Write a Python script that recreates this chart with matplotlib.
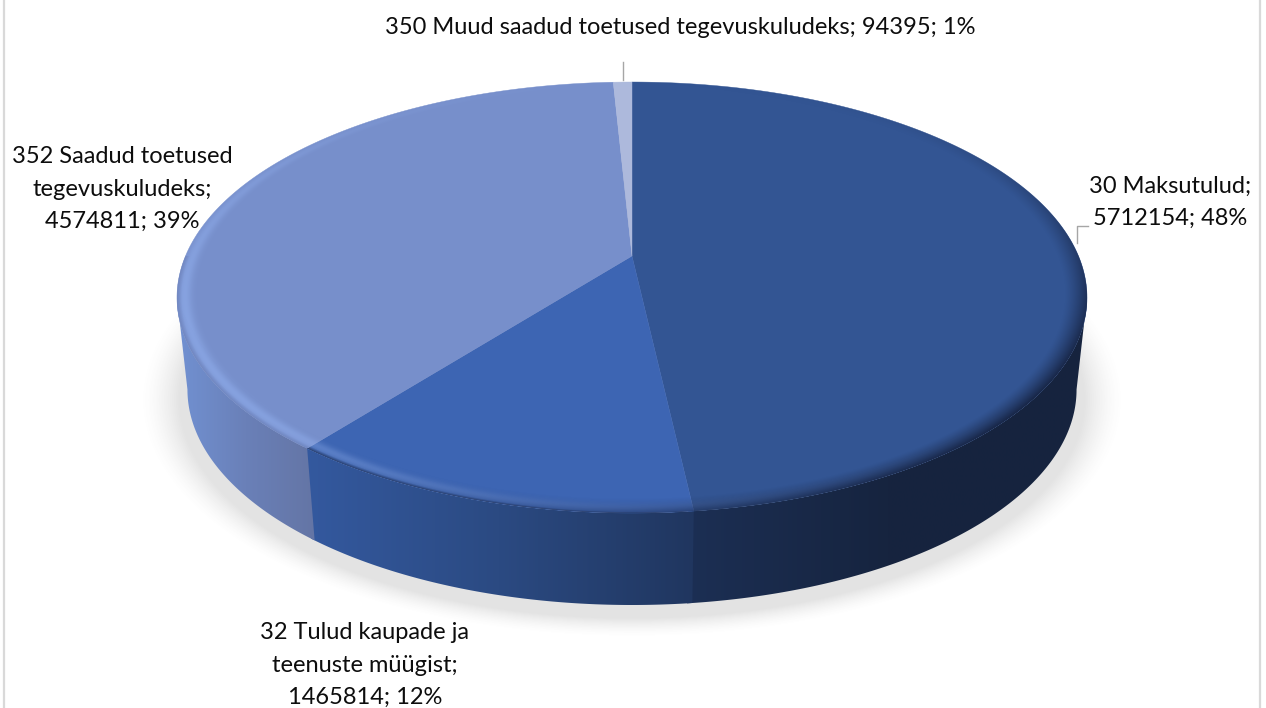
"""3D-looking pie of revenue by group, drawn on a pixel-sized axes."""

import matplotlib

matplotlib.use("Agg")

import matplotlib.pyplot as plt
import numpy as np
from matplotlib.colors import LinearSegmentedColormap
from matplotlib.patches import Polygon

# data
names = [
    "30 Maksutulud;",
    "32 Tulud kaupade ja\nteenuste müügist;",
    "352 Saadud toetused\ntegevuskuludeks;",
    "350 Muud saadud toetused tegevuskuludeks;",
]
values = [5712154, 1465814, 4574811, 94395]
percents = [48, 12, 39, 1]

face_colors = ["#335593", "#3d65b3", "#778fcb", "#adb9dc"]
wall_colors = [
    ["#1c2f54", "#16243f", "#16233e"],
    ["#34599f", "#2b4a82", "#20365f"],
    ["#7191d2", "#6a80b8", "#6475a5"],
    ["#adb9dc", "#adb9dc", "#adb9dc"],
]

WIDTH, HEIGHT = 1266, 708

# perspective of the top disc, apex of the pie at (CX, CY)
CX, CY = 632.0, 256.0
KP = 0.1926
RX, RY = 446.5, 207.5
DEPTH = 92.0
BOTTOM_SCALE = 0.977
RIM = 0.034


def project(r, theta, bottom=False):
    # theta is clockwise from 12 o'clock, in radians
    u = r * np.sin(theta)
    v = r * np.cos(theta)
    w = 1.0 + KP * v
    x = RX * u / w
    y = CY - RY * v / w
    if bottom:
        return CX + x * BOTTOM_SCALE, y + DEPTH
    return CX + x, y


def wedge_xy(t0, t1):
    t = np.linspace(t0, t1, 200)
    x, y = project(1.0, t)
    return np.column_stack((np.r_[CX, x], np.r_[CY, y]))


def wall_xy(t0, t1):
    t = np.linspace(t0, t1, 200)
    xa, ya = project(1.0, t)
    xb, yb = project(1.0, t, bottom=True)
    return np.column_stack((np.r_[xa, xb[::-1]], np.r_[ya, yb[::-1]]))


def draw_shadow(ax):
    yy, xx = np.mgrid[0:HEIGHT, 0:WIDTH] + 0.5
    d = np.hypot((xx - CX) / 452.0, (yy - 400.0) / 218.0)
    alpha = 0.17 * np.clip((1.09 - d) / 0.09, 0, 1) ** 1.6
    rgba = np.zeros((HEIGHT, WIDTH, 4))
    rgba[..., :3] = 0.35
    rgba[..., 3] = alpha
    ax.imshow(rgba, extent=(0, WIDTH, HEIGHT, 0), zorder=1, interpolation="bilinear")


def draw_wall(ax, t0, t1, colors):
    # the side is visible between the two angles where the disc is widest
    tangent = np.arccos(-KP)
    t0 = max(t0, tangent)
    # small overlap so no seam shows against the next slice
    t1 = min(t1 + 0.01, 2 * np.pi - tangent)
    if t1 <= t0:
        return
    poly = Polygon(wall_xy(t0, t1), closed=True, fc="none", ec="none", zorder=2)
    ax.add_patch(poly)
    x0 = poly.get_xy()[:, 0].min()
    x1 = poly.get_xy()[:, 0].max()
    cmap = LinearSegmentedColormap.from_list("wall", colors)
    grad = np.linspace(0, 1, 256)[None, :]
    im = ax.imshow(
        grad, cmap=cmap, extent=(x0, x1, 650, 200), zorder=2, aspect="auto",
        interpolation="bilinear",
    )
    im.set_clip_path(poly)


def draw_rim(ax, edges):
    # highlight and shade along the disc edge, from the inverse perspective
    yy, xx = np.mgrid[0:HEIGHT, 0:WIDTH] + 0.5
    a = (xx - CX) / RX
    b = (CY - yy) / RY
    v = b / (1.0 - KP * b)
    u = a * (1.0 + KP * v)
    r = np.hypot(u, v)
    th = np.degrees(np.arctan2(u, v)) % 360.0
    t = np.clip((1.0 - r) / RIM, 0, None)
    inside = np.clip((1.0 - r) * 600.0 + 0.6, 0, 1)

    light = np.exp(-(((th - 245.0) / 60.0) ** 2))
    shine = np.exp(-(((t - 0.5) / 0.42) ** 2)) * light * 0.42
    rgba = np.zeros((HEIGHT, WIDTH, 4))
    rgba[..., 0] = 0.62
    rgba[..., 1] = 0.75
    rgba[..., 2] = 1.0
    rgba[..., 3] = shine * inside
    ax.imshow(rgba, extent=(0, WIDTH, HEIGHT, 0), zorder=4, interpolation="bilinear")

    # the front right fades into the dark side, slice 3 into its own side colour
    dark = np.exp(-(((th - 130.0) / 55.0) ** 2))
    shade = np.clip(1.0 - t / 1.4, 0, 1) ** 1.3 * dark * 0.95
    split = np.degrees(edges[2])
    edge = np.clip(1.0 - t / 0.3, 0, 1) * 0.6 * (v < 0)
    over_third = (th > split) & (th < 300.0)
    rgba = np.zeros((HEIGHT, WIDTH, 4))
    rgba[..., 0] = np.where(over_third, 0.42, 0.09)
    rgba[..., 1] = np.where(over_third, 0.50, 0.14)
    rgba[..., 2] = np.where(over_third, 0.72, 0.26)
    rgba[..., 3] = np.maximum(shade, edge) * inside
    ax.imshow(rgba, extent=(0, WIDTH, HEIGHT, 0), zorder=5, interpolation="bilinear")


def main():
    plt.rcParams["font.family"] = ["Lato", "DejaVu Sans"]

    fig = plt.figure(figsize=(WIDTH / 100, HEIGHT / 100), dpi=100)
    ax = fig.add_axes([0, 0, 1, 1])

    draw_shadow(ax)

    edges = np.r_[0.0, np.cumsum(values)] / np.sum(values) * 2 * np.pi
    for i in range(len(values)):
        draw_wall(ax, edges[i], edges[i + 1], wall_colors[i])
    for i in range(len(values)):
        ax.add_patch(Polygon(wedge_xy(edges[i], edges[i + 1]), closed=True,
                             fc=face_colors[i], ec=face_colors[i], lw=0.3, zorder=3))
    draw_rim(ax, edges)

    # leader lines
    ax.plot([622.7, 622.7], [62, 80], color="#a6a6a6", lw=1.0, zorder=6)
    ax.plot([1076.7, 1076.7, 1088], [243, 225.5, 225.5], color="#a6a6a6", lw=1.0, zorder=6)

    # labels
    label_pos = [(1170, 202), (365, 665), (122, 189), (680, 27)]
    for name, val, pct, (lx, ly) in zip(names, values, percents, label_pos):
        if name.startswith("350"):
            label = f"{name} {val}; {pct}%"
        else:
            label = f"{name}\n{val}; {pct}%"
        ax.text(lx, ly, label, ha="center", va="center", fontsize=17,
                color="#0d0d0d", linespacing=1.65, zorder=7)

    # chart frame, only the sides show in the crop
    ax.plot([3.5, 3.5], [0, HEIGHT], color="#d9d9d9", lw=1.6, zorder=8)
    ax.plot([1260, 1260], [0, HEIGHT], color="#d9d9d9", lw=1.6, zorder=8)

    ax.set_xlim(0, WIDTH)
    ax.set_ylim(HEIGHT, 0)
    ax.set_aspect("auto")
    ax.axis("off")
    fig.savefig("out.png", dpi=100, facecolor="white")


if __name__ == "__main__":
    main()
